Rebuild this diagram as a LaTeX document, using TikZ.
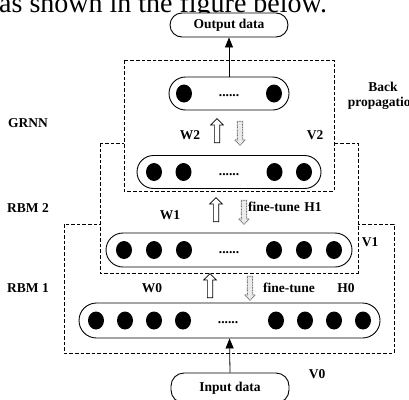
\documentclass[tikz,border=0pt]{standalone}
\usepackage{fontspec}
\setmainfont{Liberation Serif}
\usetikzlibrary{arrows.meta,shapes.arrows}
\begin{document}
\begin{tikzpicture}[x=1pt,y=-1pt,
  lbl/.style={font=\fontsize{13.5}{15.5}\selectfont\bfseries, inner sep=0pt},
  layer/.style={draw, line width=0.9pt, minimum height=33pt, inner sep=0pt},
  term/.style={draw, line width=0.9pt, rounded corners=12pt, minimum height=24pt,
    minimum width=118pt, fill=white, font=\fontsize{13.5}{15.5}\selectfont\bfseries},
  dbox/.style={draw, dash pattern=on 3.6pt off 2pt, line width=0.8pt, fill=white},
  uparr/.style={single arrow, draw, line width=0.7pt, fill=white, minimum height=24pt,
    inner sep=2.3pt, single arrow head extend=3.7pt, shape border rotate=90},
  dnarr/.style={single arrow, draw=black!55, dash pattern=on 0.9pt off 0.7pt, line width=0.9pt,
    fill=black!8, minimum height=24pt, inner sep=2.2pt, single arrow head extend=2.8pt,
    shape border rotate=270},
  link/.style={line width=0.8pt, -{Triangle[length=10pt,width=8pt]}}
]
\clip (0,0) rectangle (409,399);
\fill[white] (0,0) rectangle (409,399);

% caption line, cut off at the top
\node[anchor=base west, inner sep=0pt, font=\fontsize{28}{31}\selectfont] (cap) at (-1,12) {as shown in the figure below.};

% dashed boxes
\draw[dbox] (64,224) rectangle (394,353);
\draw[dbox] (100,143) rectangle (358,273);
\draw[dbox] (124,60) rectangle (334,191);

% terminal boxes
\node[term] (out) at (229,25) {Output data};
\node[term, minimum height=30pt, rounded corners=13pt] (in) at (230,388) {\raisebox{1.5pt}{Input data}};

% layers
\node[layer, minimum width=120pt, rounded corners=16.5pt] (L3) at (229,93.5) {};
\node[layer, minimum width=184pt, rounded corners=16.5pt] (L2) at (229,172) {};
\node[layer, minimum width=246pt, rounded corners=17pt, minimum height=34pt] (L1) at (229,250) {};
\node[layer, minimum width=301pt, rounded corners=17.5pt, minimum height=35pt] (L0) at (229.5,320.5) {};

% neurons
\foreach \d in {-45,45} \fill (229+\d,93.5) ellipse [x radius=8, y radius=9];
\foreach \d in {-75,-45.5,45.5,75} \fill (229+\d,172) ellipse [x radius=8, y radius=9];
\foreach \d in {-105,-75,-45,45,75,105} \fill (229+\d,250) ellipse [x radius=8, y radius=9];
\foreach \d in {-133.5,-104.5,-75.5,-46.5,46.5,75.5,104.5,133.5} \fill (229.5+\d,320.5) ellipse [x radius=8, y radius=9];

\node[lbl, anchor=base] (e3) at (229,96.5) {......};
\node[lbl, anchor=base] (e2) at (229,175) {......};
\node[lbl, anchor=base] (e1) at (229,253) {......};
\node[lbl, anchor=base] (e0) at (228,323.5) {......};

% connectors
\draw[link] (L3.north) -- (out.south);
\draw[link] (in.north) -- (L0.south);

% training arrows
\node[uparr] (a2) at (217,132) {};
\node[dnarr] (b2) at (240,132) {};
\node[uparr] (a1) at (216,211) {};
\node[dnarr] (b1) at (244,211) {};
\node[uparr] (a0) at (210,287) {};
\node[dnarr] (b0) at (250,287) {};

% labels
\node[lbl] (grnn) at (28,123) {GRNN};
\node[lbl] (rbm2) at (28,208) {RBM 2};
\node[lbl] (rbm1) at (28,288) {RBM 1};
\node[lbl, align=center] (bp) at (383,96) {Back\\propagation};
\node[lbl] (w2) at (190,135) {W2};
\node[lbl] (v2) at (315,135) {V2};
\node[lbl] (w1) at (170,215) {W1};
\node[lbl] (ft1) at (274,207) {fine-tune};
\node[lbl] (h1) at (313,207) {H1};
\node[lbl] (v1) at (370,242) {V1};
\node[lbl] (w0) at (152,288) {W0};
\node[lbl] (ft0) at (289,288) {fine-tune};
\node[lbl] (h0) at (346,288) {H0};
\node[lbl] (v0) at (317,374) {V0};
\end{tikzpicture}
\end{document}
